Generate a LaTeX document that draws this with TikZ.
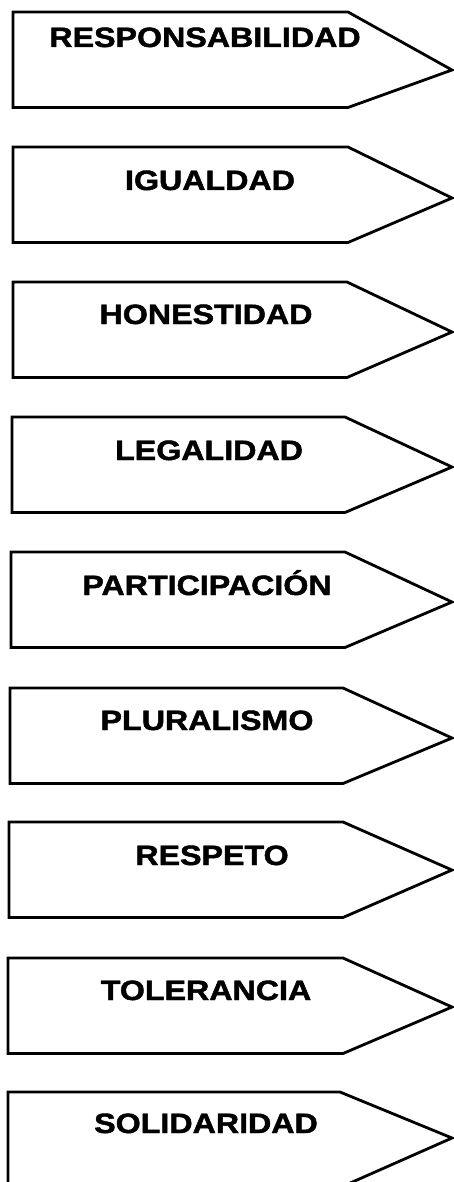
\documentclass[tikz,border=0pt]{standalone}
\usepackage{fontspec}
\setmainfont{Liberation Sans}
\newfontfamily\heavyfont[FakeBold=1.5]{Liberation Sans Bold}
\tikzset{
  pentagon/.style={draw=black, line width=2.8pt, line join=miter, fill=white},
  labeltext/.style={font=\heavyfont\fontsize{28}{30}\selectfont, anchor=base, inner sep=0pt, xscale=1.15}
}
\begin{document}
\begin{tikzpicture}[x=1pt,y=-1pt]
\useasboundingbox[fill=white] (0,0) rectangle (454,1182);
% left / top / text baseline / tip y / corner x / text x / name / label
\foreach \l/\t/\b/\tip/\c/\tx/\nm/\lab in {
  13/12/47/70/348/205/s1/RESPONSABILIDAD,
  13/147/190/198/348/210/s2/IGUALDAD,
  13/282/324/332/347/206/s3/HONESTIDAD,
  12/417/460/467/345/209/s4/LEGALIDAD,
  11/552/595/602/345/207/s5/PARTICIPACIÓN,
  10/688/730/738/343/207/s6/PLURALISMO,
  9/822/865/870/343/212/s7/RESPETO,
  8/958/1000/1007/343/206/s8/TOLERANCIA,
  8/1092/1133/1138/340/206/s9/SOLIDARIDAD}{
  \coordinate (\nm-tl) at (\l,\t);
  \coordinate (\nm-tr) at (\c,\t);
  \coordinate (\nm-tip) at (452,\tip);
  \coordinate (\nm-br) at (\c,\t+95.5);
  \coordinate (\nm-bl) at (\l,\t+95.5);
  \draw[pentagon] (\nm-tl) -- (\nm-tr) -- (\nm-tip) -- (\nm-br) -- (\nm-bl) -- cycle;
  \node[labeltext] (\nm-text) at (\tx,\b) {\lab};
}
\end{tikzpicture}
\end{document}
